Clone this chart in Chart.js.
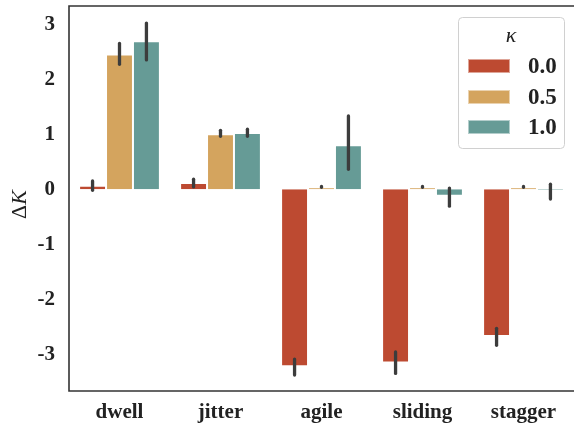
<!DOCTYPE html>
<html><head><meta charset="utf-8">
<script src="https://cdn.jsdelivr.net/npm/chart.js@4"></script>
<style>html,body{margin:0;padding:0;background:#fff}#wrap{width:574px;height:425px;position:relative}</style>
</head><body><div id="wrap"><canvas id="c" width="574" height="425"></canvas></div>
<script>
const categories = ['dwell', 'jitter', 'agile', 'sliding', 'stagger'];
const seriesLabels = ['0.0', '0.5', '1.0'];
const seriesColors = ['#bd4a31', '#d4a45e', '#669b96'];
const values00 = [0.06, 0.11, -3.22, -3.15, -2.67];
const values05 = [2.45, 1.00, 0.03, 0.03, 0.03];
const values10 = [2.69, 1.02, 0.80, -0.12, -0.02];
const errLow00 = [-0.02, 0.04, -3.38, -3.35, -2.84];
const errHigh00 = [0.15, 0.18, -3.09, -2.96, -2.53];
const errLow05 = [2.27, 0.96, 0.035, 0.035, 0.035];
const errHigh05 = [2.65, 1.07, 0.05, 0.05, 0.05];
const errLow10 = [2.35, 0.96, 0.36, -0.31, -0.18];
const errHigh10 = [3.02, 1.09, 1.33, 0.02, 0.09];
const yTicks = [-3, -2, -1, 0, 1, 2, 3];
const legendTitle = 'κ';

const allValues = [values00, values05, values10];
const allLow = [errLow00, errLow05, errLow10];
const allHigh = [errHigh00, errHigh05, errHigh10];

const FONT = "'Liberation Serif', 'DejaVu Serif', serif";

const errorBarPlugin = {
  id: 'errbars',
  afterDatasetsDraw(chart) {
    const ctx = chart.ctx, y = chart.scales.y;
    ctx.save();
    ctx.strokeStyle = '#3c3c3c';
    ctx.lineWidth = 3.3;
    ctx.lineCap = 'round';
    chart.data.datasets.forEach((ds, di) => {
      const meta = chart.getDatasetMeta(di);
      meta.data.forEach((bar, i) => {
        const y1 = y.getPixelForValue(allLow[di][i]);
        const y2 = y.getPixelForValue(allHigh[di][i]);
        ctx.beginPath();
        ctx.moveTo(bar.x, y1);
        ctx.lineTo(bar.x, y2);
        ctx.stroke();
      });
    });
    ctx.restore();
  }
};

const framePlugin = {
  id: 'frame',
  afterDraw(chart) {
    const ctx = chart.ctx, a = chart.chartArea;
    ctx.save();
    ctx.strokeStyle = '#333';
    ctx.lineWidth = 1.6;
    ctx.beginPath();
    ctx.moveTo(chart.width + 2, a.top);
    ctx.lineTo(a.left, a.top);
    ctx.lineTo(a.left, a.bottom);
    ctx.lineTo(chart.width + 2, a.bottom);
    ctx.stroke();
    // y axis title: ΔK
    ctx.translate(20, (a.top + a.bottom) / 2 + 6);
    ctx.rotate(-Math.PI / 2);
    ctx.fillStyle = '#222';
    ctx.textBaseline = 'middle';
    ctx.font = "22px " + FONT;
    const d = 'Δ';
    const dw = ctx.measureText(d).width;
    ctx.font = "italic 22px " + FONT;
    const kw = ctx.measureText('K').width;
    const start = -(dw + kw) / 2;
    ctx.font = "22px " + FONT;
    ctx.textAlign = 'left';
    ctx.fillText(d, start, 0);
    ctx.font = "italic 22px " + FONT;
    ctx.fillText('K', start + dw, 0);
    ctx.restore();

    // legend
    ctx.save();
    const lx = 458.5, ly = 17.5, lw = 106, lh = 131;
    ctx.beginPath();
    ctx.roundRect(lx, ly, lw, lh, 4);
    ctx.fillStyle = 'rgba(255,255,255,0.85)';
    ctx.fill();
    ctx.strokeStyle = '#d0d0d0';
    ctx.lineWidth = 1;
    ctx.stroke();
    ctx.fillStyle = '#222';
    ctx.font = "italic 22px " + FONT;
    ctx.textAlign = 'center';
    ctx.textBaseline = 'middle';
    ctx.fillText(legendTitle, 511, 36);
    const rows = [66, 97, 127];
    seriesLabels.forEach((lab, i) => {
      ctx.fillStyle = seriesColors[i];
      ctx.fillRect(468, rows[i] - 7, 42, 14);
      ctx.strokeStyle = 'rgba(255,255,255,0.5)';
      ctx.strokeRect(468.5, rows[i] - 6.5, 41, 13);
      ctx.fillStyle = '#222';
      ctx.font = "bold 23px " + FONT;
      ctx.textAlign = 'left';
      ctx.fillText(lab, 528, rows[i] + 1);
    });
    ctx.restore();
  }
};

new Chart(document.getElementById('c'), {
  type: 'bar',
  data: {
    labels: categories,
    datasets: seriesLabels.map((lab, i) => ({
      label: lab,
      data: allValues[i],
      backgroundColor: seriesColors[i],
      borderColor: 'rgba(255,255,255,0.45)',
      borderWidth: 1,
      barPercentage: 1.0,
      categoryPercentage: 0.8
    }))
  },
  options: {
    responsive: false,
    animation: false,
    devicePixelRatio: 1,
    layout: { padding: { top: 6, right: 0, left: 0, bottom: 0 } },
    plugins: { legend: { display: false }, tooltip: { enabled: false } },
    scales: {
      x: {
        grid: { display: false, drawTicks: false },
        border: { display: false },
        ticks: { color: '#222', font: { family: FONT, size: 21, weight: 'bold' }, padding: 9, maxRotation: 0 },
        afterFit(axis) { axis.height = 34; axis.paddingLeft = 0; axis.paddingRight = 0; }
      },
      y: {
        min: -3.67,
        max: 3.33,
        grid: { display: false, drawTicks: false },
        border: { display: false },
        afterBuildTicks(axis) { axis.ticks = yTicks.map(v => ({ value: v })); },
        ticks: { color: '#222', font: { family: FONT, size: 21, weight: 'bold' }, padding: 14, callback: v => String(v) },
        afterFit(axis) { axis.width = 69; axis.paddingTop = 0; axis.paddingBottom = 0; }
      }
    }
  },
  plugins: [errorBarPlugin, framePlugin]
});
</script></body></html>
